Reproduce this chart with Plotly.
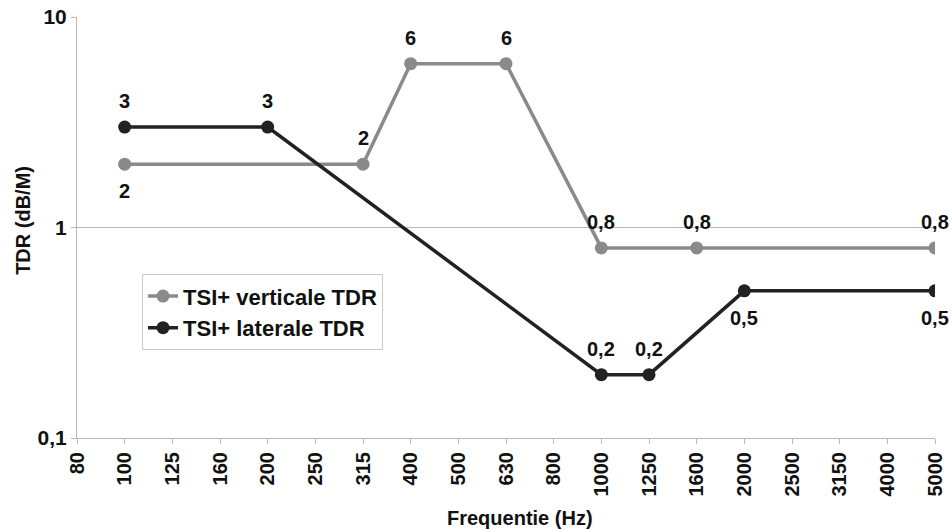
import math
import plotly.graph_objects as go

categories = ["80", "100", "125", "160", "200", "250", "315", "400", "500", "630",
              "800", "1000", "1250", "1600", "2000", "2500", "3150", "4000", "5000"]

vert_x = ["100", "315", "400", "630", "1000", "1600", "5000"]
vert_y = [2, 2, 6, 6, 0.8, 0.8, 0.8]
vert_labels = ["2", "2", "6", "6", "0,8", "0,8", "0,8"]
vert_above = [False, True, True, True, True, True, True]

lat_x = ["100", "200", "1000", "1250", "2000", "5000"]
lat_y = [3, 3, 0.2, 0.2, 0.5, 0.5]
lat_labels = ["3", "3", "0,2", "0,2", "0,5", "0,5"]
lat_above = [True, True, True, True, False, False]

y_tickvals = [0.1, 1, 10]
y_ticktext = ["0,1", "1", "10"]

FONT = "Liberation Sans, Arial, sans-serif"
GRAY = "#8a8a8a"
BLACK = "#222222"
TXT = "#111111"

fig = go.Figure()
fig.add_trace(go.Scatter(
    x=vert_x, y=vert_y, mode="lines+markers", name="<b>TSI+ verticale TDR</b>",
    line=dict(color=GRAY, width=3.5), marker=dict(color=GRAY, size=13),
))
fig.add_trace(go.Scatter(
    x=lat_x, y=lat_y, mode="lines+markers", name="<b>TSI+ laterale TDR</b>",
    line=dict(color=BLACK, width=3.5), marker=dict(color=BLACK, size=13),
))

annotations = []
for xs, ys, labels, above in [(vert_x, vert_y, vert_labels, vert_above),
                              (lat_x, lat_y, lat_labels, lat_above)]:
    for xv, yv, lab, ab in zip(xs, ys, labels, above):
        annotations.append(dict(
            x=categories.index(xv), y=math.log10(yv), xref="x", yref="y",
            text="<b>%s</b>" % lab,
            showarrow=False, xanchor="center", yanchor="middle",
            yshift=26 if ab else -27,
            font=dict(family=FONT, size=20, color=TXT),
        ))

annotations += [
    dict(text="<b>Frequentie (Hz)</b>", xref="paper", yref="paper", x=0.516, y=-0.19,
         xanchor="center", yanchor="middle", showarrow=False,
         font=dict(family=FONT, size=20, color=TXT)),
    dict(text="<b>TDR (dB/M)</b>", xref="paper", yref="paper", x=-0.063, y=0.518,
         xanchor="center", yanchor="middle", showarrow=False, textangle=-90,
         font=dict(family=FONT, size=20, color=TXT)),
]

fig.update_layout(
    width=952, height=530,
    margin=dict(l=77, r=17, t=17, b=92),
    paper_bgcolor="white", plot_bgcolor="white",
    font=dict(family=FONT, color=TXT),
    showlegend=True,
    legend=dict(x=0.0758, y=0.389, xanchor="left", yanchor="top",
                bordercolor="#c8c8c8", borderwidth=1, bgcolor="white",
                font=dict(family=FONT, size=22, color=TXT)),
    xaxis=dict(
        type="category", categoryorder="array", categoryarray=categories,
        tickmode="array", tickvals=categories, ticktext=["<b>%s</b>" % c for c in categories],
        range=[0, 18], showgrid=False, showline=True, linecolor="#b8b8b8", linewidth=1,
        ticks="outside", ticklen=5, tickcolor="#b8b8b8", tickangle=-90,
        tickfont=dict(family=FONT, size=20, color=TXT), automargin=False,
        zeroline=False,
    ),
    yaxis=dict(
        type="log", range=[-1, 1], tickmode="array", tickvals=y_tickvals,
        ticktext=["<b>%s</b>" % t for t in y_ticktext],
        showgrid=True, gridcolor="#b8b8b8", gridwidth=1,
        showline=True, linecolor="#b8b8b8", linewidth=1,
        ticks="outside", ticklen=5, tickcolor="#b8b8b8", automargin=False,
        tickfont=dict(family=FONT, size=21, color=TXT),
        zeroline=False,
    ),
    annotations=annotations,
)

fig.write_html("out.html", config={"displayModeBar": False},
               post_script="document.body.style.margin='0';document.body.style.overflow='hidden';")
